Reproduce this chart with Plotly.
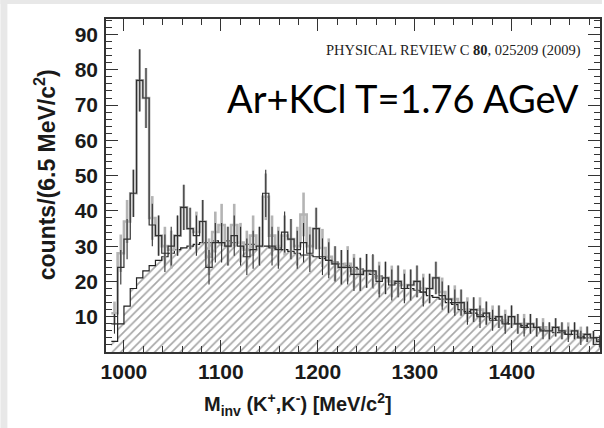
import plotly.graph_objects as go

# Histogram binning: 6.5 MeV/c^2 bins starting at the K+K- threshold
bin_start = 987.0
bin_width = 6.5

# K+K- invariant-mass spectrum (black histogram)
counts = [8, 24, 32, 45, 77, 72, 36, 33, 28, 30,
          33, 41, 35, 33, 37, 24, 31, 31, 30, 33,
          30, 27, 29, 30, 45, 30, 29, 34, 32, 29,
          31, 28, 35, 27, 26, 25, 24, 24, 22, 22,
          23, 23, 20, 21, 19, 20, 18, 19, 20, 17,
          18, 21, 16, 15, 14, 14, 11, 12, 10, 11,
          9, 10, 8, 10, 8, 7, 8, 7, 6, 6,
          7, 6, 5, 6, 4, 5, 4, 3]
counts_err = [2.8, 4.9, 5.7, 6.7, 8.8, 8.5, 6.0, 5.7, 5.3, 5.5,
              5.7, 6.4, 5.9, 5.7, 6.1, 4.9, 5.6, 5.6, 5.5, 5.7,
              5.5, 5.2, 5.4, 5.5, 6.7, 5.5, 5.4, 5.8, 5.7, 5.4,
              5.6, 5.3, 5.9, 5.2, 5.1, 5.0, 4.9, 4.9, 4.7, 4.7,
              4.8, 4.8, 4.5, 4.6, 4.4, 4.5, 4.2, 4.4, 4.5, 4.1,
              4.2, 4.6, 4.0, 3.9, 3.7, 3.7, 3.3, 3.5, 3.2, 3.3,
              3.0, 3.2, 2.8, 3.2, 2.8, 2.6, 2.8, 2.6, 2.4, 2.4,
              2.6, 2.4, 2.2, 2.4, 2.0, 2.2, 2.0, 1.7]

# Second selection (grey histogram)
counts_alt = [11, 28, 37, 45, 77, 72, 38, 33, 30, 29,
              33, 41, 35, 34, 37, 27, 34, 36, 30, 36,
              31, 29, 33, 30, 44, 33, 30, 33, 32, 30,
              39, 30, 35, 29.5, 27, 25, 24, 25, 23, 22,
              23, 22.7, 21, 21, 20, 20, 19, 19, 20, 18,
              18, 21, 17, 15, 15, 14, 12, 12, 12, 11,
              10, 10, 9, 10, 8, 8, 8, 7, 7, 6,
              7, 6, 6, 6, 5, 5, 4, 3]
counts_alt_err = [3.3, 5.3, 6.1, 6.7, 8.8, 8.5, 6.2, 5.7, 5.5, 5.4,
                  5.7, 6.4, 5.9, 5.8, 6.1, 5.2, 5.8, 6.0, 5.5, 6.0,
                  5.6, 5.4, 5.7, 5.5, 6.6, 5.7, 5.5, 5.7, 5.7, 5.5,
                  6.2, 5.5, 5.9, 5.4, 5.2, 5.0, 4.9, 5.0, 4.8, 4.7,
                  4.8, 4.8, 4.6, 4.6, 4.5, 4.5, 4.4, 4.4, 4.5, 4.2,
                  4.2, 4.6, 4.1, 3.9, 3.9, 3.7, 3.5, 3.5, 3.5, 3.3,
                  3.2, 3.2, 3.0, 3.2, 2.8, 2.8, 2.8, 2.6, 2.6, 2.4,
                  2.6, 2.4, 2.4, 2.4, 2.2, 2.2, 2.0, 1.7]

# Combinatorial background (hatched)
background = [3, 8, 13, 18, 21, 23, 24.5, 26, 27, 28,
              29, 29.5, 30, 30.5, 31, 31, 31.5, 31, 31.5, 31,
              31, 30.5, 30.5, 30, 30, 29.5, 29.5, 29, 28.5, 28,
              27.5, 27.5, 27, 26.5, 26, 25.5, 25, 24.5, 24, 23.5,
              23, 22, 21.5, 21, 20, 19.5, 19, 18, 17.5, 17,
              16, 15.5, 15, 14, 13.5, 12, 11.5, 11, 10.5, 10,
              9.5, 9, 8.5, 8, 8, 7.5, 7, 7, 6.5, 6,
              5.5, 5.5, 5, 5, 4.5, 4, 4, 3.5]

x_ticks = [1000, 1100, 1200, 1300, 1400]
y_ticks = [10, 20, 30, 40, 50, 60, 70, 80, 90]

n_bins = len(counts)
edges = [bin_start + bin_width * i for i in range(n_bins + 1)]
centers = [bin_start + bin_width * (i + 0.5) for i in range(n_bins)]


def step(values):
    return list(values) + [values[-1]]


fig = go.Figure()

# hatched background
fig.add_trace(go.Scatter(
    x=edges, y=step(background), mode="lines", line_shape="hv",
    line=dict(color="#222222", width=1.2),
    fill="tozeroy", fillcolor="white",
    fillpattern=dict(shape="/", fgcolor="#505050", bgcolor="white",
                     size=6, solidity=0.28),
    hoverinfo="skip", showlegend=False))

# grey histogram with error bars
fig.add_trace(go.Scatter(
    x=centers, y=counts_alt, mode="markers", marker=dict(size=0.1, color="#b4b4b4"),
    error_y=dict(type="data", array=counts_alt_err, color="#b4b4b4", thickness=2.6, width=0),
    showlegend=False))
fig.add_trace(go.Scatter(
    x=edges, y=step(counts_alt), mode="lines", line_shape="hv",
    line=dict(color="#b4b4b4", width=2.6), showlegend=False))

# black histogram with error bars
fig.add_trace(go.Scatter(
    x=centers, y=counts, mode="markers", marker=dict(size=0.1, color="#303030"),
    error_y=dict(type="data", array=counts_err, color="#303030", thickness=1.1, width=0),
    showlegend=False))
fig.add_trace(go.Scatter(
    x=edges, y=step(counts), mode="lines", line_shape="hv",
    line=dict(color="#303030", width=1.2), showlegend=False))

axis_common = dict(
    showline=True, linecolor="#333333", linewidth=1.5, mirror="ticks",
    ticks="inside", tickcolor="#333333", tickwidth=1.3, ticklen=12,
    showgrid=False, zeroline=False,
    tickfont=dict(family="Liberation Sans, Arial", size=21, color="#1a1a1a", weight="bold"),
)

fig.update_xaxes(range=[981.5, 1491], tickvals=x_ticks,
                 minor=dict(dtick=20, tick0=1000, ticks="inside", ticklen=6,
                            tickcolor="#333333", tickwidth=1),
                 **axis_common)
fig.update_yaxes(range=[0, 94.4], tickvals=y_ticks,
                 minor=dict(dtick=2, tick0=0, ticks="inside", ticklen=6,
                            tickcolor="#333333", tickwidth=1),
                 ticklabelstandoff=2,
                 **axis_common)

W, H = 604, 428
L, R, T, B = 106, 2, 19, 76
pw, ph = W - L - R, H - T - B


def px(xp):
    return (xp - L) / pw


def py(yp):
    return (H - B - yp) / ph


annotations = [
    dict(text="PHYSICAL REVIEW C <b>80</b>, 025209 (2009)", x=px(585), y=py(50),
         xanchor="right", yanchor="middle",
         font=dict(family="Liberation Serif, Times New Roman", size=14.5, color="#222222")),
    dict(text="Ar+KCl T=1.76 AGeV", x=px(583), y=py(98),
         xanchor="right", yanchor="middle",
         font=dict(family="Lato, Open Sans", size=38, color="black")),
    dict(text="counts/(6.5 MeV/c<sup>2</sup>)", x=px(45), y=py(175), textangle=-90,
         xanchor="center", yanchor="middle",
         font=dict(family="Liberation Sans, Arial", size=23, color="#1a1a1a", weight="bold")),
    dict(text="M<sub>inv</sub> (K<sup>+</sup>,K<sup>-</sup>) [MeV/c<sup>2</sup>]",
         x=px(299), y=py(404), xanchor="center", yanchor="middle",
         font=dict(family="Liberation Sans, Arial", size=20, color="#1a1a1a", weight="bold")),
]
for a in annotations:
    a.update(xref="paper", yref="paper", showarrow=False)

# light grey frame strips around the white page
shapes = [
    dict(type="rect", xref="paper", yref="paper", x0=px(0), x1=px(7), y0=py(H), y1=py(0),
         fillcolor="#e8e8e8", line_width=0, layer="below"),
    dict(type="rect", xref="paper", yref="paper", x0=px(0), x1=px(W), y0=py(4), y1=py(0),
         fillcolor="#e8e8e8", line_width=0, layer="below"),
]

fig.update_layout(
    width=W, height=H,
    margin=dict(l=L, r=R, t=T, b=B),
    paper_bgcolor="white", plot_bgcolor="white",
    annotations=annotations, shapes=shapes,
    showlegend=False,
)

fig.write_html("out.html")
